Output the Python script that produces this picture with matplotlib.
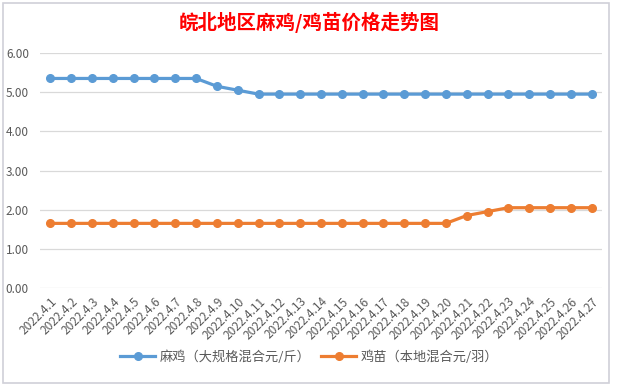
import matplotlib
matplotlib.use('Agg')
import matplotlib.pyplot as plt
from matplotlib.patches import Rectangle

plt.rcParams['font.family'] = ['Noto Sans CJK SC', 'DejaVu Sans']

# 数据
dates = ['2022.4.%d' % d for d in range(1, 28)]
maji = [5.35, 5.35, 5.35, 5.35, 5.35, 5.35, 5.35, 5.35, 5.15, 5.05,
        4.95, 4.95, 4.95, 4.95, 4.95, 4.95, 4.95, 4.95, 4.95, 4.95,
        4.95, 4.95, 4.95, 4.95, 4.95, 4.95, 4.95]
jimiao = [1.65, 1.65, 1.65, 1.65, 1.65, 1.65, 1.65, 1.65, 1.65, 1.65,
          1.65, 1.65, 1.65, 1.65, 1.65, 1.65, 1.65, 1.65, 1.65, 1.65,
          1.85, 1.95, 2.05, 2.05, 2.05, 2.05, 2.05]
yticks = [0, 1, 2, 3, 4, 5, 6]

W, H = 619, 386
fig = plt.figure(figsize=(W / 100, H / 100), dpi=100)
fig.patches.append(Rectangle((3 / W, 3 / H), 606 / W, 380 / H, transform=fig.transFigure,
                             fill=False, edgecolor='#D0D0D8', linewidth=1.2))

ax = fig.add_axes([40 / W, 98 / H, 562 / W, 235 / H])
x = list(range(len(dates)))
ax.plot(x, maji, color='#5B9BD5', linewidth=2.3, marker='o', markersize=5.5,
        label='麻鸡（大规格混合元/斤）')
ax.plot(x, jimiao, color='#ED7D31', linewidth=2.3, marker='o', markersize=5.5,
        label='鸡苗（本地混合元/羽）')

ax.set_xlim(-0.5, len(dates) - 0.5)
ax.set_ylim(0, 6)
ax.set_yticks(yticks)
ax.set_yticklabels(['%.2f' % v for v in yticks])
ax.set_xticks(x)
ax.set_xticklabels(dates, rotation=45, ha='right', rotation_mode='anchor')
ax.tick_params(axis='both', length=0, labelsize=8.5, labelcolor='#595959')
ax.tick_params(axis='x', labelsize=8.6, pad=5)
ax.tick_params(axis='y', pad=8)
ax.grid(axis='y', color='#D9D9D9', linewidth=0.9)
ax.set_axisbelow(True)
for s in ax.spines.values():
    s.set_visible(False)

fig.text(0.5, 1 - 22 / H, '皖北地区麻鸡/鸡苗价格走势图', ha='center', va='center',
         fontsize=14, fontweight='bold', color='#FF0000')

fig.legend(loc='center', bbox_to_anchor=(0.5, 1 - 357 / H), ncol=2, frameon=False,
           fontsize=9.5, labelcolor='#595959', handlelength=2.6, handletextpad=0.4,
           columnspacing=0.8)

fig.savefig('out.png', dpi=100)
